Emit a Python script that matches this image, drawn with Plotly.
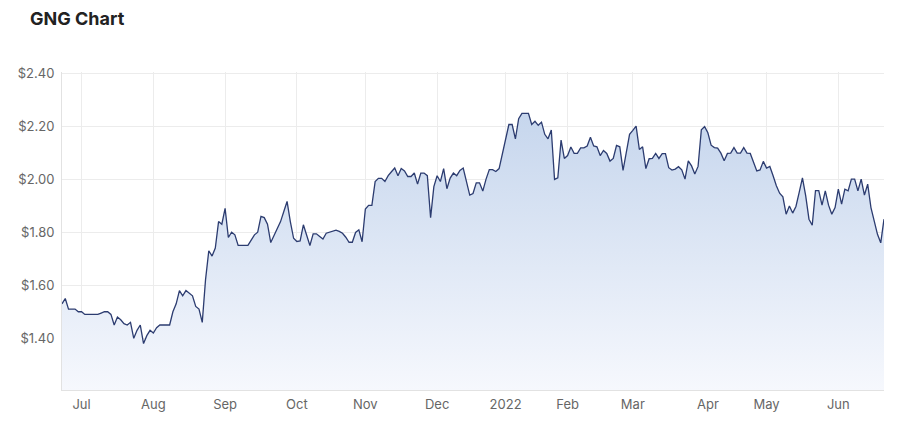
import pandas as pd
import plotly.graph_objects as go

# Trading calendar (ASX) Jun 23 2021 - Jun 22 2022
start_date = "2021-06-23"
end_date = "2022-06-22"
holidays = ["2021-12-27", "2021-12-28", "2022-01-03", "2022-01-26",
            "2022-04-15", "2022-04-18", "2022-04-25", "2022-06-13"]
dates = [d.strftime("%Y-%m-%d") for d in
         pd.bdate_range(start_date, end_date, freq="C", holidays=holidays)]

# Closing prices, one per trading day
prices = [
    1.53, 1.55, 1.51, 1.51, 1.51, 1.50, 1.50, 1.49, 1.49, 1.49,
    1.49, 1.49, 1.495, 1.50, 1.50, 1.49, 1.45, 1.48, 1.47, 1.455,
    1.45, 1.46, 1.40, 1.43, 1.45, 1.38, 1.41, 1.43, 1.42, 1.44,
    1.45, 1.45, 1.45, 1.45, 1.50, 1.53, 1.58, 1.56, 1.58, 1.57,
    1.56, 1.52, 1.51, 1.46, 1.62, 1.73, 1.71, 1.74, 1.84, 1.83,
    1.89, 1.78, 1.80, 1.79, 1.75, 1.75, 1.75, 1.75, 1.77, 1.79,
    1.80, 1.86, 1.855, 1.83, 1.761, 1.786, 1.809, 1.840, 1.878, 1.916,
    1.840, 1.777, 1.765, 1.767, 1.828, 1.784, 1.750, 1.794, 1.794, 1.784,
    1.774, 1.796, 1.800, 1.803, 1.808, 1.803, 1.796, 1.781, 1.762, 1.762,
    1.799, 1.809, 1.764, 1.887, 1.901, 1.901, 1.991, 2.003, 2.003, 1.991,
    2.013, 2.028, 2.042, 2.013, 2.040, 2.031, 2.010, 2.010, 2.023, 1.981,
    2.023, 2.023, 2.013, 1.855, 1.972, 2.013, 1.991, 2.040, 1.964, 2.004,
    2.023, 2.013, 2.033, 2.042, 1.99, 1.94, 1.946, 1.986, 1.986, 1.955,
    2.00, 2.036, 2.036, 2.029, 2.040, 2.093, 2.143, 2.206, 2.206, 2.152,
    2.228, 2.248, 2.248, 2.248, 2.206, 2.218, 2.203, 2.215, 2.169, 2.152,
    2.185, 1.999, 2.005, 2.147, 2.078, 2.089, 2.121, 2.097, 2.097, 2.118,
    2.118, 2.125, 2.158, 2.125, 2.122, 2.089, 2.108, 2.097, 2.068, 2.078,
    2.127, 2.122, 2.033, 2.099, 2.169, 2.184, 2.200, 2.112, 2.122, 2.040,
    2.077, 2.078, 2.097, 2.078, 2.096, 2.096, 2.043, 2.034, 2.038, 2.047,
    2.035, 2.000, 2.069, 2.050, 2.019, 2.048, 2.186, 2.198, 2.175, 2.128,
    2.119, 2.117, 2.098, 2.069, 2.097, 2.098, 2.119, 2.098, 2.098, 2.119,
    2.098, 2.097, 2.063, 2.031, 2.035, 2.067, 2.042, 2.048, 2.013, 1.975,
    1.947, 1.933, 1.868, 1.899, 1.872, 1.897, 1.950, 2.005, 1.937, 1.849,
    1.826, 1.957, 1.957, 1.902, 1.956, 1.902, 1.868, 1.893, 1.962, 1.906,
    1.962, 1.956, 2.000, 2.000, 1.956, 2.000, 1.940, 1.981, 1.893, 1.836,
    1.792, 1.760, 1.849,
]

tick_months = ["2021-07", "2021-08", "2021-09", "2021-10", "2021-11", "2021-12",
               "2022-01", "2022-02", "2022-03", "2022-04", "2022-05", "2022-06"]
tick_labels = ["Jul", "Aug", "Sep", "Oct", "Nov", "Dec",
               "2022", "Feb", "Mar", "Apr", "May", "Jun"]
tick_dates = [next(d for d in dates if d.startswith(m)) for m in tick_months]

y_ticks = [1.40, 1.60, 1.80, 2.00, 2.20, 2.40]

n = min(len(dates), len(prices))
dates = dates[:n]
prices = prices[:n]

fig = go.Figure()
fig.add_trace(go.Scatter(
    x=dates, y=prices, mode="lines",
    line=dict(color="#2c3c70", width=1.3),
    fill="tozeroy",
    fillgradient=dict(type="vertical", start=1.205, stop=2.25,
                      colorscale=[[0, "rgba(246,248,253,1)"],
                                  [1, "rgba(198,214,237,1)"]]),
    hoverinfo="skip",
))

fig.update_layout(
    width=921, height=434,
    paper_bgcolor="white", plot_bgcolor="white",
    margin=dict(l=54, r=45, t=64, b=52, autoexpand=False),
    showlegend=False,
    font=dict(family="Inter, Roboto, sans-serif", color="#666666", size=13),
    title=dict(text="<b>GNG Chart</b>", x=22/921, xref="container", xanchor="left",
               y=1, yref="container", yanchor="top", pad=dict(t=4, l=0),
               font=dict(size=18, color="#222222", family="Inter, Roboto, sans-serif")),
)

fig.update_xaxes(
    type="category", range=[0, n - 1],
    tickmode="array", tickvals=tick_dates, ticktext=tick_labels,
    showgrid=True, gridcolor="#ececec", gridwidth=1,
    showline=True, linecolor="#e2e2e2", linewidth=1,
    ticks="", ticklabelstandoff=2,
    tickfont=dict(size=13, color="#666666"),
)
fig.update_yaxes(
    range=[1.205, 2.404],
    tickmode="array", tickvals=y_ticks,
    ticktext=["$%.2f" % v for v in y_ticks],
    showgrid=True, gridcolor="#ececec", gridwidth=1,
    showline=True, linecolor="#e2e2e2", linewidth=1,
    zeroline=False, ticks="", ticklabelstandoff=4,
    tickfont=dict(size=13, color="#666666"),
)

fig.write_html("out.html")
